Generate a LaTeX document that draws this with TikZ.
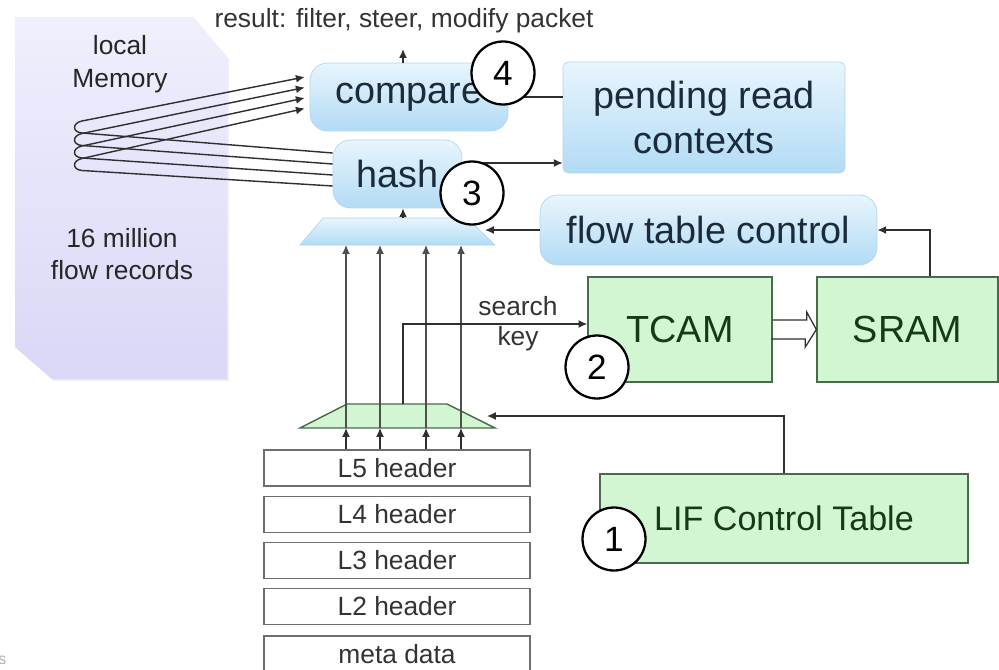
\documentclass[tikz,border=0pt]{standalone}
\usepackage{fontspec}
\setmainfont{Liberation Sans}
\usetikzlibrary{arrows.meta,backgrounds}
\definecolor{bluetop}{HTML}{E8F5FD}
\definecolor{bluebot}{HTML}{B2DBF5}
\definecolor{blueedge}{HTML}{B0D6EF}
\definecolor{bluetext}{HTML}{1C2B3C}
\definecolor{greenfill}{HTML}{D2F6D2}
\definecolor{greenedge}{HTML}{4A6A4A}
\definecolor{greentext}{HTML}{143C14}
\definecolor{memtop}{HTML}{EFEFFD}
\definecolor{membot}{HTML}{D8D8F7}
\definecolor{hdredge}{HTML}{6E6E6E}
\definecolor{hdrtext}{HTML}{333333}
\definecolor{linec}{HTML}{2F2F2F}
\begin{document}
\begin{tikzpicture}[x=0.02cm,y=-0.02cm,
  bluebox/.style={rounded corners=10pt, top color=bluetop, bottom color=bluebot, draw=blueedge, line width=0.4pt, text=bluetext, font=\fontsize{21.5}{25.5}\selectfont, inner sep=0pt, align=center},
  greenbox/.style={fill=greenfill, draw=greenedge, line width=0.8pt, text=greentext, font=\fontsize{21.5}{25.5}\selectfont, inner sep=0pt},
  hdr/.style={draw=hdredge, fill=white, line width=0.9pt, minimum width=5.32cm, minimum height=0.72cm, text=hdrtext, font=\fontsize{15}{18}\selectfont, inner sep=0pt},
  num/.style={circle, draw=black, fill=white, line width=1.3pt, minimum size=1.26cm, inner sep=0pt, font=\fontsize{20}{20}\selectfont},
  lbl/.style={text=hdrtext, font=\fontsize{15}{18.5}\selectfont, inner sep=0pt, align=center},
  arr/.style={draw=linec, line width=0.8pt, -{Latex[length=5pt,width=4.5pt]}},
  ln/.style={draw=linec, line width=0.8pt}]
\useasboundingbox (0,0) rectangle (999,669);
\fill[white] (0,0) rectangle (999,669);

% local memory
\fill[black!6] (17,19) -- (195,19) -- (229,59) -- (229,381) -- (54,381) -- (17,349) -- cycle;
\shade[top color=memtop, bottom color=membot] (15,17) -- (193,17) -- (227,57) -- (227,379) -- (52,379) -- (15,347) -- cycle;
\node[lbl, text=black!85, font=\fontsize{15}{18.8}\selectfont] (mem1) at (120,64) {local\\Memory};
\node[lbl, text=black!85, font=\fontsize{15}{18.3}\selectfont] (mem2) at (122,254) {16 million\\flow records};

% blue boxes
\node[bluebox, minimum width=3.96cm, minimum height=1.36cm] (compare) at (409,97) {compare};
\node[bluebox, minimum width=2.58cm, minimum height=1.36cm] (hash) at (397.5,174) {hash};
\node[bluebox, rounded corners=3pt, minimum width=5.64cm, minimum height=2.22cm] (pending) at (704,117.5) {pending read\\contexts};
\node[bluebox, minimum width=6.74cm, minimum height=1.4cm] (flow) at (708.5,230) {flow table control};

% blue mux
\shade[top color=bluetop, bottom color=bluebot, draw=blueedge, line width=0.4pt] (300,245) -- (323,218) -- (467,218) -- (495,245) -- cycle;
\coordinate (bmT) at (397,218);
\coordinate (bmB) at (397,245);

% green boxes
\node[greenbox, minimum width=3.68cm, minimum height=2.1cm] (TCAM) at (680,329.5) {TCAM};
\node[greenbox, minimum width=3.62cm, minimum height=2.1cm] (SRAM) at (907.5,329.5) {SRAM};
\node[greenbox, font=\fontsize{19.4}{22}\selectfont, minimum width=7.36cm, minimum height=1.78cm] (LIF) at (784,518.5) {LIF Control Table};

% green mux
\draw[fill=greenfill, draw=greenedge, line width=0.8pt] (300,428) -- (347,404) -- (447,404) -- (495,428) -- cycle;
\coordinate (gmT) at (397,404);
\coordinate (gmB) at (397,428);

% headers
\node[hdr] (L5) at (397,468) {L5 header};
\node[hdr] (L4) at (397,514.5) {L4 header};
\node[hdr] (L3) at (397,560.5) {L3 header};
\node[hdr] (L2) at (397,606.5) {L2 header};
\node[hdr] (meta) at (397,654) {meta data};

% columns
\coordinate (c1) at (346,0);
\coordinate (c2) at (380,0);
\coordinate (c3) at (403,0);
\coordinate (c4) at (426,0);
\coordinate (c5) at (461,0);

\begin{scope}[on background layer]
\draw[ln, draw=hdredge] (L4.north -| c2) -- (L5.south -| c2);
\draw[ln, draw=hdredge] (L3.north -| c4) -- (L5.south -| c4);
\draw[ln, draw=hdredge] (L2.north -| c5) -- (L5.south -| c5);
\end{scope}

% header -> green mux -> blue mux
\foreach \c in {c1,c2,c4,c5}{
  \draw[arr] (L5.north -| \c) -- (gmB -| \c);
  \draw[arr, draw=linec!85] (gmB -| \c) -- (bmB -| \c);
}

% blue mux -> hash, compare -> result
\draw[arr] (bmT -| c3) -- (hash.south -| c3);
\node[lbl] (result) at (404,21) {result: filter, steer, modify packet};
\coordinate (res) at (403,49);
\draw[arr] (compare.north -| c3) -- (res);

% search key
\coordinate (sk) at (0,324);
\draw[arr] (gmT -| c3) |- (TCAM.west |- sk);
\node[lbl] (sk1) at (518,306) {search};
\node[lbl] (sk2) at (518,339) {key};

% LIF -> green mux
\coordinate (lifx) at (784,0);
\coordinate (lifin) at (487,416);
\draw[arr] (LIF.north -| lifx) |- (lifin);

% flow -> blue mux
\coordinate (flowin) at (485,230);
\draw[arr] (flow.west) -- (flowin);

% SRAM -> flow
\coordinate (sx) at (930,0);
\draw[arr] (SRAM.north -| sx) |- (flow.east);

% TCAM => SRAM (hollow block arrow)
\draw[draw=linec, line width=0.7pt, line join=miter] (TCAM.east) ++(0,-9.5) -- ++(34,0) -- ++(0,-8) -- (SRAM.west) -- ++(-11,17.5) -- ++(0,-8) -- ++(-34,0);

% compare -- pending, hash -> pending
\draw[ln] (compare.east) -- (compare.east -| pending.west);
\coordinate (hp) at (0,163);
\draw[arr] (hash.east |- hp) -- (pending.west |- hp);

% loops from local memory
\foreach \i in {0,1,2,3}{
  \pgfmathsetmacro\ys{(174-(153+11*\i))*0.02}
  \pgfmathsetmacro\yc{(97-(77+10.5*\i))*0.02}
  \pgfmathsetmacro\b{133+12.5*\i}
  \pgfmathsetmacro\a{121+12.5*\i}
  \draw[arr] ([yshift=\ys cm]hash.west) -- (82,\b) .. controls +(-10,-0.8) and +(-10,2) .. (82,\a) -- ([xshift=-0.1cm,yshift=\yc cm]compare.west);
}

% numbered circles
\node[num] (n4) at (503,73) {4};
\node[num] (n3) at (472,193) {3};
\node[num] (n2) at (597,367) {2};
\node[num] (n1) at (614,539) {1};

\node[text=gray!60, font=\fontsize{9}{9}\selectfont, inner sep=0pt, anchor=west] (s) at (-2,660) {s};
\end{tikzpicture}
\end{document}
